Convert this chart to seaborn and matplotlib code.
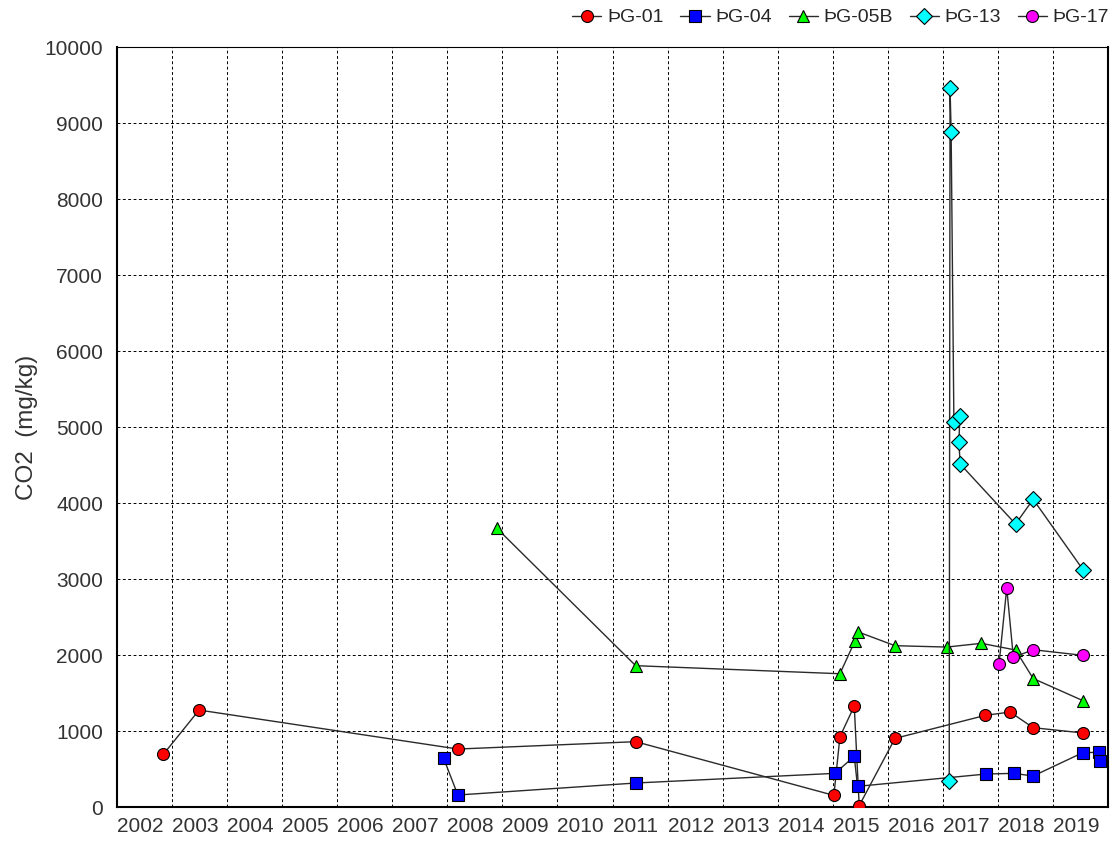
import numpy as np
import pandas as pd
import matplotlib
matplotlib.use("Agg")
import matplotlib.pyplot as plt
import matplotlib.transforms as mtransforms
import seaborn as sns

# sample dates (decimal years) and CO2 (mg/kg) per well
wells = ["ÞG-01", "ÞG-04", "ÞG-05B", "ÞG-13", "ÞG-17"]

pg01_year = [2002.84, 2003.49, 2008.19, 2011.42, 2015.02, 2015.13, 2015.39, 2015.48,
             2016.13, 2017.77, 2018.22, 2018.64, 2019.55]
pg01_co2 = [693, 1276, 763, 860, 153, 925, 1329, 18, 903, 1206, 1250, 1044, 974]

pg04_year = [2007.93, 2008.19, 2011.42, 2015.04, 2015.39, 2015.45, 2017.78, 2018.29,
             2018.64, 2019.54, 2019.84, 2019.85]
pg04_co2 = [645, 158, 316, 443, 667, 272, 434, 443, 408, 715, 720, 601]

pg05b_year = [2008.90, 2011.42, 2015.13, 2015.40, 2015.45, 2016.13, 2017.07, 2017.70,
              2018.32, 2018.64, 2019.54]
pg05b_co2 = [3667, 1860, 1754, 2180, 2307, 2123, 2105, 2154, 2066, 1691, 1401]

pg13_year = [2017.115, 2017.13, 2017.15, 2017.20, 2017.31, 2017.29, 2017.315, 2018.32,
             2018.64, 2019.55]
pg13_co2 = [346, 9461, 8882, 5070, 5149, 4799, 4513, 3724, 4049, 3118]

pg17_year = [2018.02, 2018.16, 2018.28, 2018.64, 2019.54]
pg17_co2 = [1882, 2882, 1970, 2070, 1996]

years = [pg01_year, pg04_year, pg05b_year, pg13_year, pg17_year]
values = [pg01_co2, pg04_co2, pg05b_co2, pg13_co2, pg17_co2]

colors = ["#ff0000", "#0000ff", "#00ff00", "#00ffff", "#ff00ff"]
markers = ["o", "s", "^", "D", "o"]
msizes = [8.6, 8.0, 8.6, 8.4, 8.6]

sns.set_style("white")
plt.rcParams["font.family"] = ["Liberation Sans", "DejaVu Sans"]

fig, ax = plt.subplots(figsize=(11.18, 8.41), dpi=100)
fig.subplots_adjust(left=0.1047, right=0.9911, top=0.944, bottom=0.0404)

for i, well in enumerate(wells):
    sns.lineplot(x=years[i], y=values[i], ax=ax, sort=False, estimator=None,
                 color="#2a2a2a", lw=1.0, marker=markers[i], markersize=msizes[i],
                 markerfacecolor=colors[i], markeredgecolor="black",
                 markeredgewidth=0.8, label=well, zorder=3 + i)

ax.get_legend().remove()
handles, labels = ax.get_legend_handles_labels()
fig.legend(handles, labels, loc="center right", bbox_to_anchor=(0.992, 0.979),
           ncol=5, frameon=False, fontsize=14, handlelength=1.5,
           handletextpad=0.3, columnspacing=0.85, borderpad=0, borderaxespad=0)

ax.set_xlim(2002, 2020)
ax.set_ylim(0, 10000)
ax.set_xticks(range(2002, 2020))
ax.set_xticklabels([str(y) for y in range(2002, 2020)], ha="left")
ax.set_yticks(range(0, 10001, 1000))
offset = mtransforms.ScaledTranslation(2 / 100, 0, fig.dpi_scale_trans)
for lab in ax.get_xticklabels():
    lab.set_transform(lab.get_transform() + offset)

ax.tick_params(axis="both", labelsize=15, labelcolor="#333333", color="black",
               direction="out", length=3, width=0.8)
ax.tick_params(axis="x", pad=4)
ax.tick_params(axis="y", pad=7)

ax.set_xlabel("")
ax.set_ylabel("CO2  (mg/kg)", fontsize=17.5, color="#333333", labelpad=5)

ax.set_axisbelow(True)
ax.grid(True, color="black", linestyle=(0, (3, 2.5)), linewidth=0.7)

for side in ["left", "bottom", "right"]:
    ax.spines[side].set_linewidth(1.5)
    ax.spines[side].set_color("black")
ax.spines["top"].set_linewidth(0.8)
ax.spines["top"].set_color("black")

fig.savefig("out.png", dpi=100)
